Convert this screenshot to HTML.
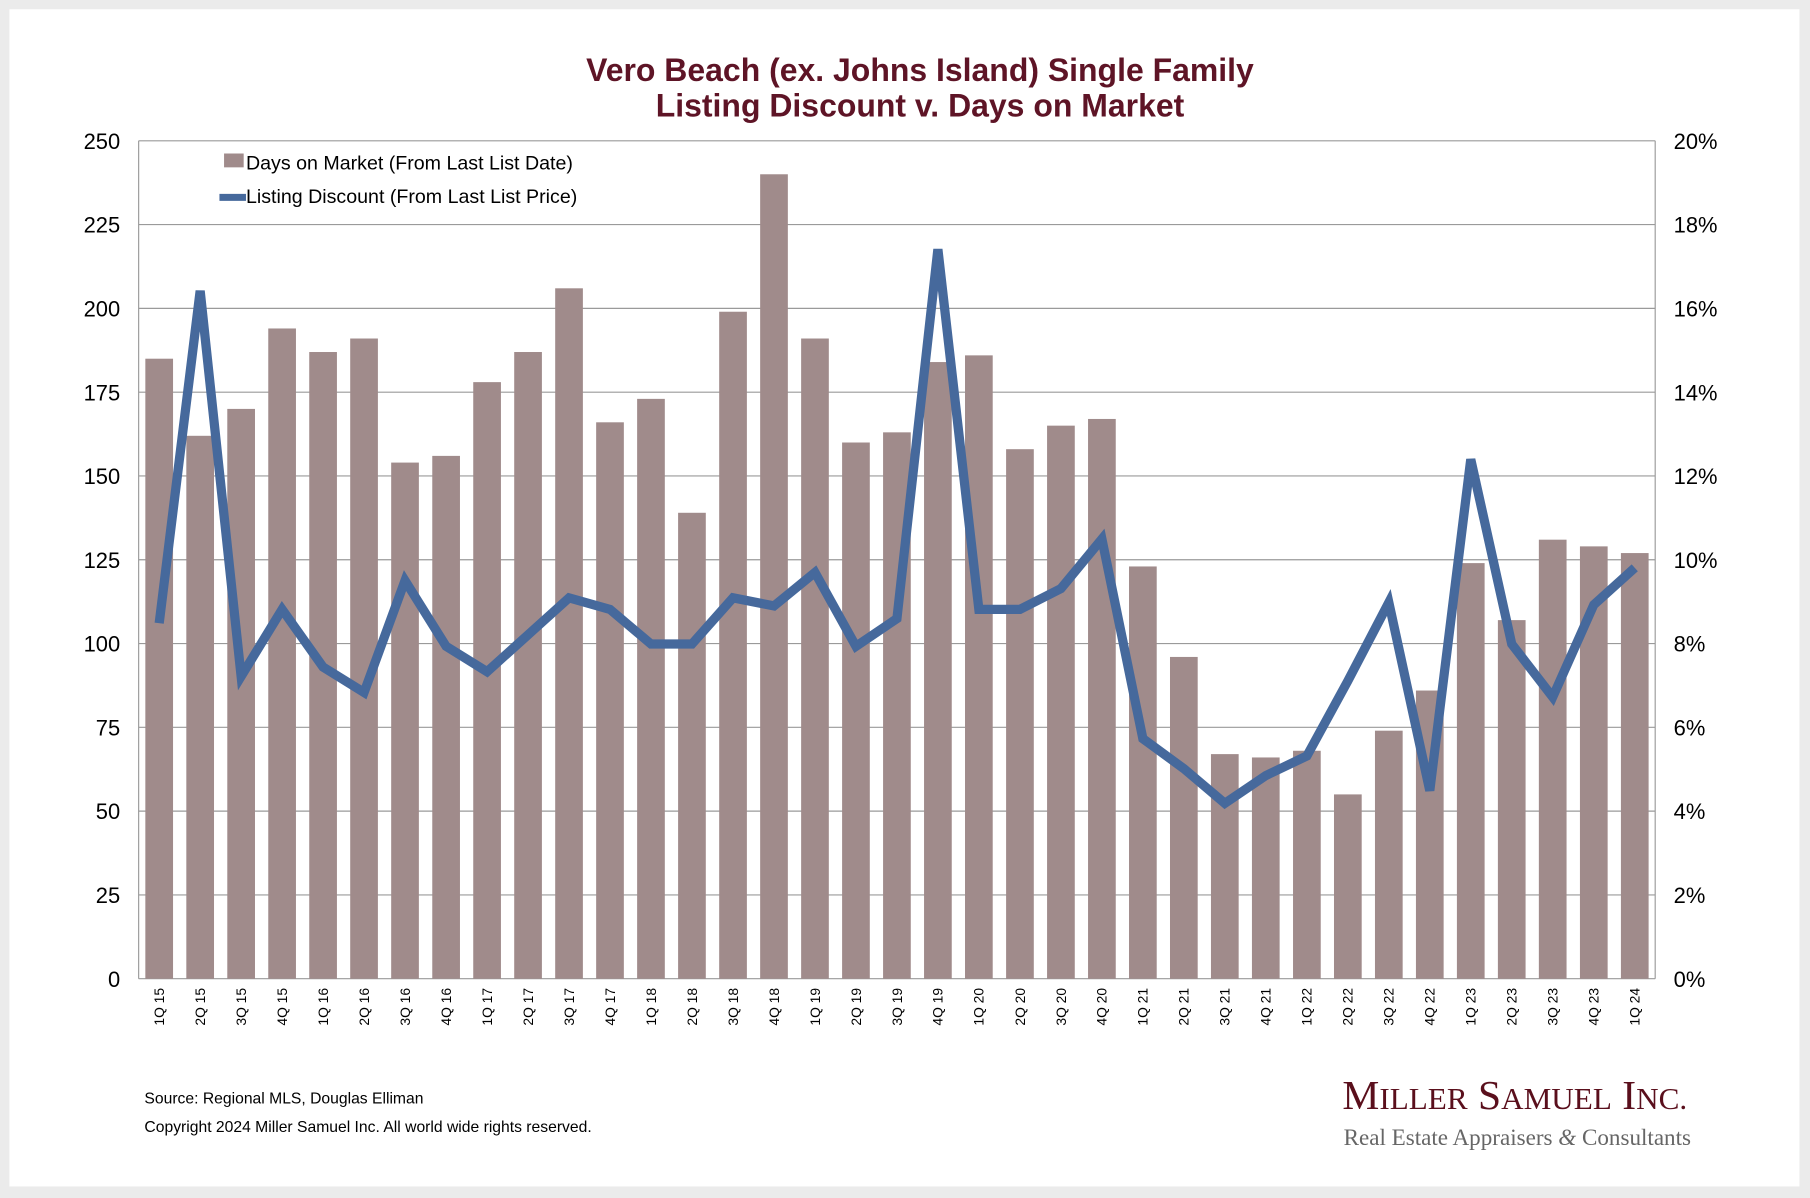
<!DOCTYPE html>
<html><head><style>html,body{margin:0;padding:0;background:#ebebeb}svg{display:block}</style></head>
<body>
<svg width="1810" height="1198" viewBox="0 0 1568 1038" xmlns="http://www.w3.org/2000/svg" font-family="Liberation Sans, sans-serif">
<rect x="0" y="0" width="1568" height="1038" fill="#ebebeb"/>
<rect x="8" y="8" width="1551" height="1020" fill="#fff"/>
<text x="797" y="70" text-anchor="middle" font-size="27.7" font-weight="bold" fill="#5e1426">Vero Beach (ex. Johns Island) Single Family</text>
<text x="797" y="101" text-anchor="middle" font-size="27.7" font-weight="bold" fill="#5e1426">Listing Discount v. Days on Market</text>
<g stroke="#9a9a9a" stroke-width="1">
<line x1="120" y1="122" x2="1434" y2="122"/><line x1="120" y1="194.6" x2="1434" y2="194.6"/><line x1="120" y1="267.2" x2="1434" y2="267.2"/><line x1="120" y1="339.8" x2="1434" y2="339.8"/><line x1="120" y1="412.4" x2="1434" y2="412.4"/><line x1="120" y1="485" x2="1434" y2="485"/><line x1="120" y1="557.6" x2="1434" y2="557.6"/><line x1="120" y1="630.2" x2="1434" y2="630.2"/><line x1="120" y1="702.8" x2="1434" y2="702.8"/><line x1="120" y1="775.4" x2="1434" y2="775.4"/><line x1="120" y1="848" x2="1434" y2="848"/>
<line x1="120" y1="122" x2="120" y2="848"/><line x1="1434" y1="122" x2="1434" y2="848"/>
</g>
<g font-size="19" fill="#000" text-anchor="end">
<text x="104" y="129">250</text><text x="104" y="201.6">225</text><text x="104" y="274.2">200</text><text x="104" y="346.8">175</text><text x="104" y="419.4">150</text><text x="104" y="492">125</text><text x="104" y="564.6">100</text><text x="104" y="637.2">75</text><text x="104" y="709.8">50</text><text x="104" y="782.4">25</text><text x="104" y="855">0</text>
</g>
<g font-size="19" fill="#000" text-anchor="start">
<text x="1450" y="129">20%</text><text x="1450" y="201.6">18%</text><text x="1450" y="274.2">16%</text><text x="1450" y="346.8">14%</text><text x="1450" y="419.4">12%</text><text x="1450" y="492">10%</text><text x="1450" y="564.6">8%</text><text x="1450" y="637.2">6%</text><text x="1450" y="709.8">4%</text><text x="1450" y="782.4">2%</text><text x="1450" y="855">0%</text>
</g>
<g fill="#a08b8b">
<rect x="125.8" y="310.8" width="24" height="537.2"/><rect x="161.3" y="377.6" width="24" height="470.4"/><rect x="196.8" y="354.3" width="24" height="493.7"/><rect x="232.3" y="284.6" width="24" height="563.4"/><rect x="267.8" y="305" width="24" height="543"/><rect x="303.3" y="293.3" width="24" height="554.7"/><rect x="338.8" y="400.8" width="24" height="447.2"/><rect x="374.4" y="395" width="24" height="453"/><rect x="409.9" y="331.1" width="24" height="516.9"/><rect x="445.4" y="305" width="24" height="543"/><rect x="480.9" y="249.8" width="24" height="598.2"/><rect x="516.4" y="365.9" width="24" height="482.1"/><rect x="551.9" y="345.6" width="24" height="502.4"/><rect x="587.4" y="444.3" width="24" height="403.7"/><rect x="623" y="270.1" width="24" height="577.9"/><rect x="658.5" y="151" width="24" height="697"/><rect x="694" y="293.3" width="24" height="554.7"/><rect x="729.5" y="383.4" width="24" height="464.6"/><rect x="765" y="374.6" width="24" height="473.4"/><rect x="800.5" y="313.7" width="24" height="534.3"/><rect x="836" y="307.9" width="24" height="540.1"/><rect x="871.6" y="389.2" width="24" height="458.8"/><rect x="907.1" y="368.8" width="24" height="479.2"/><rect x="942.6" y="363" width="24" height="485"/><rect x="978.1" y="490.8" width="24" height="357.2"/><rect x="1013.6" y="569.2" width="24" height="278.8"/><rect x="1049.1" y="653.4" width="24" height="194.6"/><rect x="1084.6" y="656.3" width="24" height="191.7"/><rect x="1120.2" y="650.5" width="24" height="197.5"/><rect x="1155.7" y="688.3" width="24" height="159.7"/><rect x="1191.2" y="633.1" width="24" height="214.9"/><rect x="1226.7" y="598.3" width="24" height="249.7"/><rect x="1262.2" y="487.9" width="24" height="360.1"/><rect x="1297.7" y="537.3" width="24" height="310.7"/><rect x="1333.2" y="467.6" width="24" height="380.4"/><rect x="1368.8" y="473.4" width="24" height="374.6"/><rect x="1404.3" y="479.2" width="24" height="368.8"/>
</g>
<polyline fill="none" stroke="#46699c" stroke-width="8" stroke-linejoin="miter" points="137.8,540 173.3,252 208.8,586 244.3,528 279.8,578 315.3,600 350.8,503 386.4,560 421.9,582 457.4,550 492.9,518 528.4,528 563.9,558 599.4,558 635,518 670.5,525 706,496 741.5,560 777,536 812.5,216 848,528 883.6,528 919.1,510 954.6,467 990.1,640 1025.6,666 1061.1,696 1096.6,672 1132.2,655 1167.7,590 1203.2,522 1238.7,685 1274.2,398 1309.7,558 1345.2,604 1380.8,524 1416.3,492"/>
<rect x="194" y="133" width="17" height="12" fill="#a08b8b"/>
<text x="213" y="147" font-size="17">Days on Market (From Last List Date)</text>
<line x1="190" y1="171" x2="213" y2="171" stroke="#46699c" stroke-width="6"/>
<text x="213" y="176" font-size="17">Listing Discount (From Last List Price)</text>
<g font-size="12" fill="#000" text-anchor="end">
<text transform="translate(142,856) rotate(-90)">1Q 15</text><text transform="translate(177.5,856) rotate(-90)">2Q 15</text><text transform="translate(213,856) rotate(-90)">3Q 15</text><text transform="translate(248.5,856) rotate(-90)">4Q 15</text><text transform="translate(284,856) rotate(-90)">1Q 16</text><text transform="translate(319.5,856) rotate(-90)">2Q 16</text><text transform="translate(355,856) rotate(-90)">3Q 16</text><text transform="translate(390.6,856) rotate(-90)">4Q 16</text><text transform="translate(426.1,856) rotate(-90)">1Q 17</text><text transform="translate(461.6,856) rotate(-90)">2Q 17</text><text transform="translate(497.1,856) rotate(-90)">3Q 17</text><text transform="translate(532.6,856) rotate(-90)">4Q 17</text><text transform="translate(568.1,856) rotate(-90)">1Q 18</text><text transform="translate(603.6,856) rotate(-90)">2Q 18</text><text transform="translate(639.2,856) rotate(-90)">3Q 18</text><text transform="translate(674.7,856) rotate(-90)">4Q 18</text><text transform="translate(710.2,856) rotate(-90)">1Q 19</text><text transform="translate(745.7,856) rotate(-90)">2Q 19</text><text transform="translate(781.2,856) rotate(-90)">3Q 19</text><text transform="translate(816.7,856) rotate(-90)">4Q 19</text><text transform="translate(852.2,856) rotate(-90)">1Q 20</text><text transform="translate(887.8,856) rotate(-90)">2Q 20</text><text transform="translate(923.3,856) rotate(-90)">3Q 20</text><text transform="translate(958.8,856) rotate(-90)">4Q 20</text><text transform="translate(994.3,856) rotate(-90)">1Q 21</text><text transform="translate(1029.8,856) rotate(-90)">2Q 21</text><text transform="translate(1065.3,856) rotate(-90)">3Q 21</text><text transform="translate(1100.8,856) rotate(-90)">4Q 21</text><text transform="translate(1136.4,856) rotate(-90)">1Q 22</text><text transform="translate(1171.9,856) rotate(-90)">2Q 22</text><text transform="translate(1207.4,856) rotate(-90)">3Q 22</text><text transform="translate(1242.9,856) rotate(-90)">4Q 22</text><text transform="translate(1278.4,856) rotate(-90)">1Q 23</text><text transform="translate(1313.9,856) rotate(-90)">2Q 23</text><text transform="translate(1349.4,856) rotate(-90)">3Q 23</text><text transform="translate(1385,856) rotate(-90)">4Q 23</text><text transform="translate(1420.5,856) rotate(-90)">1Q 24</text>
</g>
<text x="125" y="956" font-size="13.6">Source: Regional MLS, Douglas Elliman</text>
<text x="125" y="981" font-size="13.6">Copyright 2024 Miller Samuel Inc.  All world wide rights reserved.</text>
<text x="1163" y="961" font-family="Liberation Serif, serif" font-size="36" fill="#5a0f1c">M<tspan font-size="27">ILLER</tspan> S<tspan font-size="27">AMUEL</tspan> I<tspan font-size="27">NC.</tspan></text>
<text x="1164" y="992" font-family="Liberation Serif, serif" font-size="20" fill="#666">Real Estate Appraisers <tspan font-style="italic">&amp;</tspan> Consultants</text>
</svg>
</body></html>
